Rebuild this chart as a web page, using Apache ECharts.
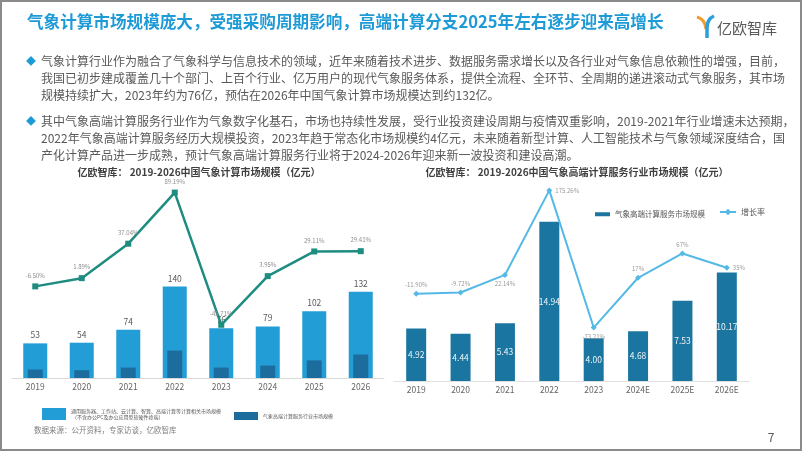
<!DOCTYPE html>
<html><head><meta charset="utf-8">
<script src="https://cdn.jsdelivr.net/npm/echarts@6/dist/echarts.min.js"></script>
<style>html,body{margin:0;padding:0;background:#fff}#c{width:802px;height:451px}</style>
</head><body><div id="c"></div>
<script>
// ---- data ----
const leftYears = ['2019','2020','2021','2022','2023','2024','2025','2026'];
const leftTotal = [53, 54, 74, 140, 76, 79, 102, 132];
const leftHpc = [13, 12, 16, 42, 16, 19, 27, 36];
const leftGrowth = [-6.50, 1.89, 37.04, 89.19, -45.71, 3.95, 29.11, 29.41];

const rightYears = ['2019','2020','2021','2022','2023','2024E','2025E','2026E'];
const rightHpc = [4.92, 4.44, 5.43, 14.94, 4.00, 4.68, 7.53, 10.17];
const rightGrowth = [-11.90, -9.72, 22.14, 175.26, -73.21, 17, 61, 35];
const rightGrowthLabels = ['-11.90%','-9.72%','22.14%','175.26%','-73.21%','17%','67%','35%'];
const rightLabelPos = ['top','top','bottom','right','bottom','top','top','right'];

const titleText = '气象计算市场规模庞大，受强采购周期影响，高端计算分支2025年左右逐步迎来高增长';
const para1 = [
 '气象计算行业作为融合了气象科学与信息技术的领域，近年来随着技术进步、数据服务需求增长以及各行业对气象信息依赖性的增强，目前，',
 '我国已初步建成覆盖几十个部门、上百个行业、亿万用户的现代气象服务体系，提供全流程、全环节、全周期的递进滚动式气象服务，其市场',
 '规模持续扩大，2023年约为76亿，预估在2026年中国气象计算市场规模达到约132亿。'
];
const para2 = [
 '其中气象高端计算服务行业作为气象数字化基石，市场也持续性发展，受行业投资建设周期与疫情双重影响，2019-2021年行业增速未达预期，',
 '2022年气象高端计算服务经历大规模投资，2023年趋于常态化市场规模约4亿元，未来随着新型计算、人工智能技术与气象领域深度结合，国',
 '产化计算产品进一步成熟，预计气象高端计算服务行业将于2024-2026年迎来新一波投资和建设高潮。'
];
const leftTitle = '亿欧智库： 2019-2026中国气象计算市场规模（亿元）';
const rightTitle = '亿欧智库： 2019-2026中国气象高端计算服务行业市场规模（亿元）';
const nameTotal = '通用服务器、工作站、云计算、智算、高端计算等计算相关市场规模';
const nameTotalNote = '（不含办公PC及办公应用型软硬件终端）';
const nameHpcLeft = '气象高端计算服务行业市场规模';
const nameHpcRight = '气象高端计算服务市场规模';
const nameGrowthRight = '增长率';
const sourceText = '数据来源：公开资料，专家访谈，亿欧智库';

// ---- chart ----
const FF = '"Noto Sans CJK SC","Noto Sans",sans-serif';
const chart = echarts.init(document.getElementById('c'));

const graphics = [
  {type:'rect', shape:{x:1,y:1,width:800,height:449}, style:{fill:'none', stroke:'#8a8a8a', lineWidth:2}, silent:true},
  {type:'text', x:27, y:22, style:{text:titleText, fontSize:16.6, fontWeight:'bold', fill:'#1E9BD7', fontFamily:FF, verticalAlign:'middle'}},
  // logo
  {type:'bezierCurve', shape:{x1:697, y1:17, cpx1:705, cpy1:19, x2:706, y2:29}, style:{fill:'none', stroke:'#F39A2B', lineWidth:3}},
  {type:'bezierCurve', shape:{x1:714, y1:16, cpx1:707, cpy1:19, x2:707, y2:28}, style:{fill:'none', stroke:'#2A9FDB', lineWidth:3.5}},
  {type:'line', shape:{x1:707, y1:28, x2:707, y2:38}, style:{stroke:'#2A9FDB', lineWidth:3.5}},
  {type:'text', x:717, y:28, style:{text:'亿欧智库', fontSize:15, fill:'#5a5a5a', fontFamily:FF, verticalAlign:'middle'}},
  {type:'text', x:34, y:430, style:{text:sourceText, fontSize:7.5, fill:'#808080', fontFamily:FF, verticalAlign:'middle'}},
  {type:'text', x:771, y:437, style:{text:'7', fontSize:12, fill:'#595959', fontFamily:FF, align:'center', verticalAlign:'middle'}},
  {type:'text', x:199, y:172, style:{text:leftTitle, fontSize:10, fontWeight:'bold', fill:'#404040', fontFamily:FF, align:'center', verticalAlign:'middle'}},
  {type:'text', x:577, y:172, style:{text:rightTitle, fontSize:10, fontWeight:'bold', fill:'#404040', fontFamily:FF, align:'center', verticalAlign:'middle'}}
];
const paraY = [[61,78,95],[121,138,155]];
[para1, para2].forEach((p, pi) => {
  graphics.push({type:'text', x:31, y:paraY[pi][0], style:{text:'◆', fontSize:10, fill:'#1E9BD7', align:'center', verticalAlign:'middle', fontFamily:FF}});
  p.forEach((line, li) => {
    graphics.push({type:'text', x:41, y:paraY[pi][li], style:{text:line, fontSize:12, fill:'#595959', verticalAlign:'middle', fontFamily:FF}});
  });
});

const option = {
  animation:false,
  textStyle:{fontFamily:FF},
  graphic: graphics,
  legend:[
    {left:37, top:403, itemWidth:24, itemHeight:12, data:[nameTotal], icon:'rect',
     formatter: n => n + '\n ' + nameTotalNote,
     textStyle:{fontSize:5, color:'#595959', lineHeight:6, fontFamily:FF}},
    {left:229, top:407, itemWidth:24, itemHeight:8, data:[nameHpcLeft], icon:'rect',
     textStyle:{fontSize:5, color:'#595959', fontFamily:FF}},
    {left:590, top:205.5, itemWidth:15, itemHeight:4, data:[nameHpcRight], icon:'rect',
     textStyle:{fontSize:7.5, color:'#595959', fontFamily:FF}},
    {left:714, top:203, itemWidth:16, itemHeight:8, data:[nameGrowthRight],
     textStyle:{fontSize:8, color:'#595959', fontFamily:FF}}
  ],
  grid:[
    {left:12, right:418, top:182, bottom:73},
    {left:394, right:53, top:170, bottom:70}
  ],
  xAxis:[
    {type:'category', gridIndex:0, data:leftYears, axisTick:{show:false},
     axisLine:{lineStyle:{color:'#d9d9d9'}}, axisLabel:{fontSize:8.5, color:'#666', margin:5}},
    {type:'category', gridIndex:0, data:leftYears, show:false},
    {type:'category', gridIndex:1, data:rightYears, axisTick:{show:false},
     axisLine:{lineStyle:{color:'#e0e0e0'}}, axisLabel:{fontSize:8.5, color:'#666', margin:5}}
  ],
  yAxis:[
    {type:'value', gridIndex:0, min:0, max:300, show:false},
    {type:'value', gridIndex:0, min:-100, max:100, show:false},
    {type:'value', gridIndex:1, min:0, max:19.8, show:false},
    {type:'value', gridIndex:1, min:-170, max:212.2, show:false}
  ],
  series:[
    {name:nameTotal, type:'bar', xAxisIndex:0, yAxisIndex:0, data:leftTotal, barWidth:24,
     itemStyle:{color:'#239DD6'},
     label:{show:true, position:'top', distance:4, fontSize:8.5, color:'#595959'}},
    {name:nameHpcLeft, type:'bar', xAxisIndex:1, yAxisIndex:0, data:leftHpc, barWidth:15, z:3,
     itemStyle:{color:'#1C6D9E'}},
    {name:'气象计算市场增长率', type:'line', xAxisIndex:0, yAxisIndex:1, data:leftGrowth, z:5,
     lineStyle:{color:'#1E8C80', width:2.5}, itemStyle:{color:'#1E8C80'},
     symbol:'rect', symbolSize:6,
     label:{show:true, position:'top', distance:5, fontSize:6, color:'#8c8c8c',
            formatter: p => p.value.toFixed(2) + '%'}},
    {name:nameHpcRight, type:'bar', xAxisIndex:2, yAxisIndex:2, data:rightHpc, barWidth:20,
     itemStyle:{color:'#1A76A0'},
     label:{show:true, position:'inside', fontSize:8.5, color:'#eef4f8', formatter: p => p.value.toFixed(2)}},
    {name:nameGrowthRight, type:'line', xAxisIndex:2, yAxisIndex:3, z:5,
     data: rightGrowth.map((v,i) => ({value:v, label:{position:rightLabelPos[i]}})),
     lineStyle:{color:'#55B9E6', width:2}, itemStyle:{color:'#55B9E6'},
     symbol:'diamond', symbolSize:6,
     label:{show:true, distance:3, fontSize:6, color:'#999',
            formatter: p => rightGrowthLabels[p.dataIndex]}}
  ]
};
chart.setOption(option);
</script>
</body></html>
